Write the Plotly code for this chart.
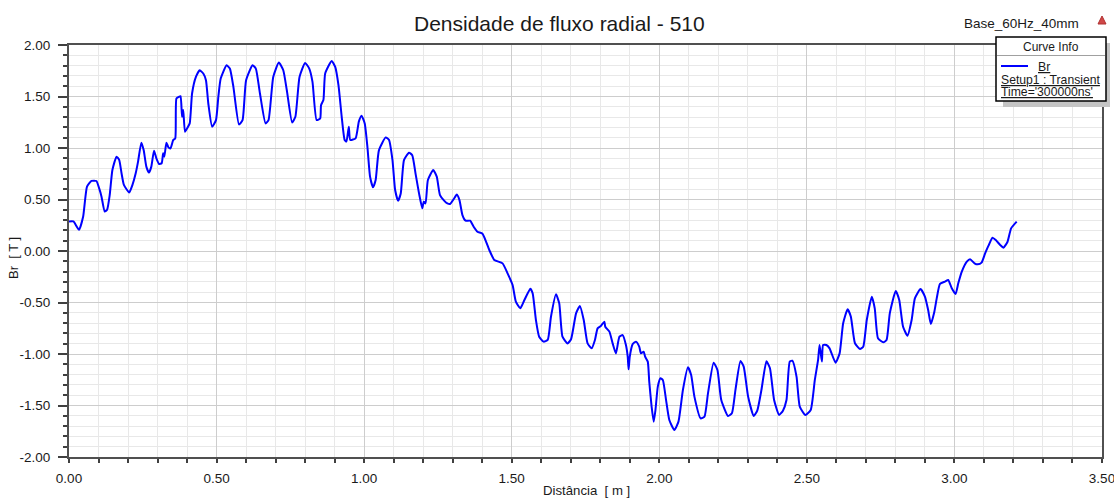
import plotly.graph_objects as go

distancia_m = [
    0.000, 0.015, 0.034, 0.048, 0.061, 0.076, 0.093, 0.102, 0.110, 0.121, 0.129, 0.138, 0.147,
    0.161, 0.170, 0.178, 0.186, 0.204, 0.215, 0.226, 0.234, 0.245, 0.253, 0.262, 0.271, 0.279,
    0.288, 0.296, 0.305, 0.314, 0.319, 0.323, 0.330, 0.337, 0.344, 0.353, 0.360, 0.364, 0.373,
    0.378, 0.383, 0.387, 0.393, 0.400, 0.409, 0.417, 0.430, 0.443, 0.455, 0.464, 0.472, 0.485,
    0.498, 0.506, 0.514, 0.534, 0.545, 0.557, 0.576, 0.588, 0.600, 0.622, 0.633, 0.647, 0.666,
    0.676, 0.692, 0.711, 0.726, 0.738, 0.756, 0.767, 0.781, 0.800, 0.814, 0.825, 0.839, 0.851,
    0.854, 0.862, 0.868, 0.890, 0.902, 0.913, 0.924, 0.934, 0.940, 0.948, 0.953, 0.971, 0.982,
    0.991, 1.002, 1.011, 1.020, 1.030, 1.039, 1.050, 1.073, 1.084, 1.096, 1.105, 1.115, 1.124,
    1.135, 1.152, 1.163, 1.174, 1.186, 1.197, 1.202, 1.208, 1.216, 1.234, 1.246, 1.257, 1.271,
    1.282, 1.291, 1.305, 1.314, 1.323, 1.333, 1.344, 1.359, 1.371, 1.384, 1.401, 1.424, 1.441,
    1.469, 1.486, 1.503, 1.514, 1.529, 1.543, 1.563, 1.571, 1.582, 1.593, 1.608, 1.622, 1.633,
    1.650, 1.661, 1.672, 1.689, 1.701, 1.718, 1.731, 1.744, 1.757, 1.771, 1.782, 1.791, 1.802,
    1.814, 1.817, 1.831, 1.842, 1.853, 1.865, 1.876, 1.887, 1.893, 1.896, 1.900, 1.910, 1.921,
    1.932, 1.938, 1.947, 1.952, 1.961, 1.966, 1.974, 1.981, 1.987, 1.995, 2.004, 2.012, 2.023,
    2.034, 2.051, 2.065, 2.080, 2.097, 2.108, 2.119, 2.140, 2.153, 2.165, 2.184, 2.197, 2.210,
    2.233, 2.246, 2.258, 2.275, 2.286, 2.301, 2.320, 2.332, 2.346, 2.363, 2.375, 2.389, 2.406,
    2.419, 2.431, 2.442, 2.451, 2.465, 2.476, 2.495, 2.513, 2.527, 2.538, 2.543, 2.551, 2.555,
    2.566, 2.577, 2.597, 2.611, 2.623, 2.638, 2.649, 2.663, 2.680, 2.691, 2.703, 2.720, 2.730,
    2.741, 2.759, 2.770, 2.781, 2.801, 2.813, 2.826, 2.841, 2.855, 2.866, 2.885, 2.900, 2.911,
    2.920, 2.932, 2.940, 2.951, 2.968, 2.979, 2.991, 3.004, 3.013, 3.025, 3.042, 3.053, 3.068,
    3.079, 3.092, 3.104, 3.115, 3.129, 3.140, 3.155, 3.166, 3.180, 3.192, 3.211,
]

br_tesla = [
    0.287, 0.287, 0.206, 0.335, 0.626, 0.680, 0.680, 0.610, 0.530, 0.384, 0.400, 0.545, 0.787,
    0.916, 0.884, 0.755, 0.642, 0.568, 0.642, 0.755, 0.868, 1.052, 0.980, 0.819, 0.761, 0.819,
    0.974, 0.900, 0.845, 0.852, 0.948, 0.916, 1.052, 1.006, 0.997, 1.077, 1.094, 1.480, 1.497,
    1.503, 1.303, 1.368, 1.158, 1.190, 1.239, 1.529, 1.690, 1.755, 1.723, 1.658, 1.432, 1.206,
    1.271, 1.497, 1.674, 1.803, 1.771, 1.594, 1.229, 1.271, 1.658, 1.803, 1.771, 1.529, 1.239,
    1.271, 1.690, 1.829, 1.755, 1.561, 1.248, 1.303, 1.690, 1.826, 1.771, 1.642, 1.271, 1.287,
    1.416, 1.465, 1.723, 1.845, 1.787, 1.610, 1.303, 1.078, 1.062, 1.207, 1.078, 1.094, 1.256,
    1.314, 1.239, 1.013, 0.722, 0.618, 0.689, 0.977, 1.103, 1.080, 0.883, 0.592, 0.489, 0.559,
    0.883, 0.955, 0.930, 0.754, 0.559, 0.414, 0.479, 0.462, 0.689, 0.786, 0.722, 0.543, 0.489,
    0.462, 0.456, 0.510, 0.549, 0.494, 0.349, 0.294, 0.294, 0.236, 0.187, 0.168, 0.010, -0.087,
    -0.120, -0.217, -0.330, -0.492, -0.557, -0.476, -0.366, -0.411, -0.670, -0.832, -0.880, -0.864, -0.638,
    -0.421, -0.508, -0.832, -0.897, -0.857, -0.605, -0.534, -0.670, -0.897, -0.945, -0.864, -0.751, -0.728,
    -0.686, -0.735, -0.783, -0.897, -0.994, -0.832, -0.816, -0.913, -1.026, -1.149, -1.026, -0.903, -0.880,
    -0.929, -0.994, -0.978, -1.026, -1.074, -1.269, -1.511, -1.657, -1.544, -1.317, -1.236, -1.252, -1.447,
    -1.641, -1.738, -1.657, -1.350, -1.129, -1.204, -1.414, -1.625, -1.609, -1.382, -1.084, -1.155, -1.447,
    -1.602, -1.576, -1.350, -1.068, -1.123, -1.414, -1.602, -1.550, -1.350, -1.071, -1.139, -1.447, -1.592,
    -1.550, -1.447, -1.074, -1.065, -1.219, -1.511, -1.592, -1.544, -1.252, -1.058, -0.913, -1.074, -0.913,
    -0.913, -0.945, -1.084, -0.994, -0.702, -0.566, -0.637, -0.896, -0.951, -0.929, -0.670, -0.443, -0.557,
    -0.848, -0.887, -0.864, -0.605, -0.388, -0.476, -0.735, -0.822, -0.670, -0.460, -0.369, -0.443, -0.573,
    -0.709, -0.589, -0.460, -0.320, -0.297, -0.281, -0.362, -0.417, -0.314, -0.200, -0.103, -0.080, -0.119,
    -0.129, -0.113, -0.023, 0.049, 0.129, 0.107, 0.058, 0.032, 0.090, 0.220, 0.285,
]

x_ticks = [0.0, 0.5, 1.0, 1.5, 2.0, 2.5, 3.0, 3.5]
y_ticks = [-2.0, -1.5, -1.0, -0.5, 0.0, 0.5, 1.0, 1.5, 2.0]

FONT = "Liberation Sans, Arial, sans-serif"
TXT = "#1a1a1a"

fig = go.Figure()
fig.add_trace(go.Scatter(
    x=distancia_m, y=br_tesla, mode="lines", name="Br",
    line=dict(color="#0000FF", width=2, shape="spline", smoothing=0.5), showlegend=False,
))

W, H = 1114, 498
L, R, T, B = 69, 12, 45, 41

fig.update_layout(
    width=W, height=H,
    margin=dict(l=L, r=R, t=T, b=B, pad=0, autoexpand=False),
    paper_bgcolor="white", plot_bgcolor="white",
    font=dict(family=FONT, size=13, color=TXT),
    showlegend=False,
)

fig.update_xaxes(
    range=[0, 3.5], tickvals=x_ticks, ticktext=[f"{v:.2f}" for v in x_ticks],
    automargin=False, ticklabeloverflow="allow",
    ticks="outside", ticklen=4, tickcolor="#404040", tickwidth=1.5,
    ticklabelstandoff=4,
    showline=True, linecolor="#505050", linewidth=2, mirror=True,
    showgrid=True, gridcolor="#CDCDCD", gridwidth=1, zeroline=False,
    tickfont=dict(size=13.5, color=TXT),
    minor=dict(dtick=0.1, tick0=0, ticks="outside", ticklen=4, tickcolor="#404040", tickwidth=1.5,
               showgrid=True, gridcolor="#E8E8E8", gridwidth=1),
)
fig.update_yaxes(
    range=[-2, 2], tickvals=y_ticks, ticktext=[f"{v:.2f}" for v in y_ticks],
    automargin=False, ticklabeloverflow="allow",
    ticks="outside", ticklen=9, tickcolor="#404040", tickwidth=1.5,
    ticklabelstandoff=5,
    showline=True, linecolor="#505050", linewidth=2, mirror=True,
    showgrid=True, gridcolor="#CDCDCD", gridwidth=1, zeroline=False,
    tickfont=dict(size=13.5, color=TXT),
    minor=dict(dtick=0.1, tick0=0, ticks="outside", ticklen=4, tickcolor="#404040", tickwidth=1.5,
               showgrid=True, gridcolor="#E8E8E8", gridwidth=1),
)

def px(x):
    return (x - L) / (W - L - R)

def py(y):
    return (H - B - y) / (H - T - B)

def note(text, x, y, size, anchor="center", angle=0):
    return dict(text=text, x=px(x), y=py(y), xref="paper", yref="paper",
                showarrow=False, xanchor=anchor, yanchor="middle", textangle=angle,
                font=dict(family=FONT, size=size, color=TXT))

ann = [
    note("Densidade de fluxo radial - 510", 559, 24, 21),
    note("Base_60Hz_40mm", 1081, 23, 13.5, anchor="right"),
    note("Distância  [ m ]", 586, 490, 13.2),
    note("Br  [ T ]", 13, 258, 13, angle=-90),
    note("Curve Info", 1051, 47, 12),
    note("<u>Br</u>", 1036, 67, 12.3, anchor="left"),
    note("<u>Setup1 : Transient</u>", 999, 80, 12.2, anchor="left"),
    note("<u>Time='300000ns'</u>", 999, 92, 12.2, anchor="left"),
]

shapes = [
    # legend shadow
    dict(type="rect", xref="paper", yref="paper",
         x0=px(1003), x1=px(1110), y0=py(107), y1=py(43),
         fillcolor="#C4C4C4", line=dict(width=0), layer="above"),
    # legend box
    dict(type="rect", xref="paper", yref="paper",
         x0=px(996), x1=px(1106), y0=py(101), y1=py(37),
         fillcolor="white", line=dict(color="#000000", width=1.5), layer="above"),
    dict(type="line", xref="paper", yref="paper",
         x0=px(997), x1=px(1105), y0=py(55.5), y1=py(55.5),
         line=dict(color="#A0A0A0", width=1), layer="above"),
    dict(type="line", xref="paper", yref="paper",
         x0=px(1001), x1=px(1028), y0=py(66), y1=py(66),
         line=dict(color="#0000FF", width=2), layer="above"),
    # small red logo
    dict(type="path", xref="paper", yref="paper",
         path=f"M {px(1098)},{py(24)} L {px(1102)},{py(16)} L {px(1106)},{py(24)} Z",
         fillcolor="#D04848", line=dict(color="#B03030", width=1), layer="above"),
]

fig.update_layout(annotations=ann, shapes=shapes)

fig.write_html(
    "out.html",
    config={"displayModeBar": False},
    post_script="document.body.style.margin='0';document.body.style.overflow='hidden';",
)
